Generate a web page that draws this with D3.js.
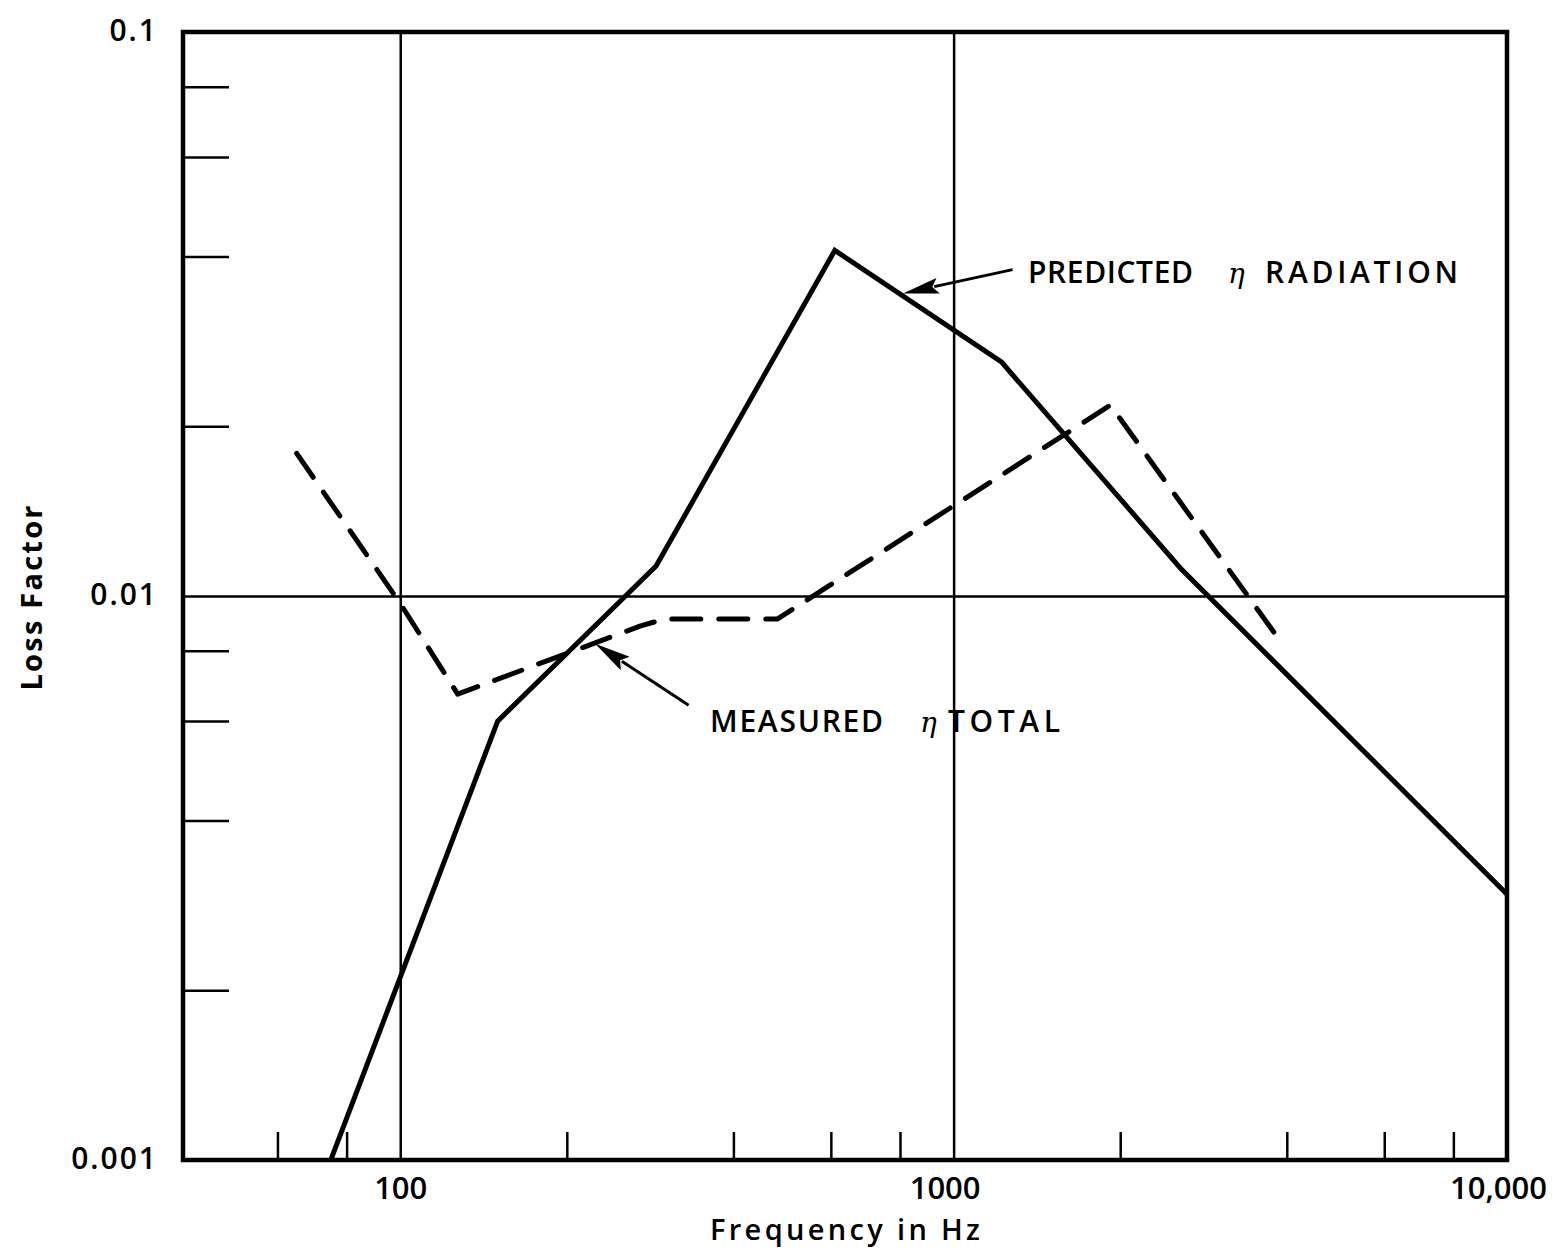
<!DOCTYPE html>
<html><head><meta charset="utf-8">
<script src="https://cdn.jsdelivr.net/npm/d3@7"></script>
<style>body{margin:0;background:#fff}svg{display:block}</style>
</head><body>
<svg id="c" width="1559" height="1259"></svg>
<script>
// ---- data ----
const predictedFreq = [63, 150, 290, 610, 1220, 2570, 10000];
const predictedEta  = [0.00064, 0.0060, 0.0113, 0.041, 0.026, 0.0112, 0.00296];
const measuredFreq  = [65, 100, 127, 272, 300, 480, 1920, 3900];
const measuredEta   = [0.0179, 0.0097, 0.0067, 0.00885, 0.0091, 0.0091, 0.0218, 0.0083];

const xLabelValues = [100, 1000, 10000];
const xLabels      = ["100", "1000", "10,000"];
const xMinorTicks  = [60, 80, 200, 400, 600, 800, 2000, 4000, 6000, 8000];
const xGridValues  = [100, 1000];
const yLabelValues = [0.001, 0.01, 0.1];
const yLabels      = ["0.001", "0.01", "0.1"];
const yMinorTicks  = [0.002, 0.004, 0.006, 0.008, 0.02, 0.04, 0.06, 0.08];
const yGridValues  = [0.01];

// annotation anchors (data coordinates)
const predictedArrow = {tail: [1278, 0.0379], tip: [810, 0.0344]};
const measuredArrow  = {tail: [332, 0.0064], tip: [225, 0.00823]};

// ---- layout ----
const L = 183, R = 1507, T = 32, B = 1160;
const FONT = "'Open Sans', Lato, 'DejaVu Sans', sans-serif";
const W = 600;
const svg = d3.select("#c");
const x = d3.scaleLog().domain([40.5, 10000]).range([L, R]);
const y = d3.scaleLog().domain([0.001, 0.1]).range([B, T]);

svg.append("defs").append("clipPath").attr("id", "plot")
  .append("rect").attr("x", L).attr("y", T).attr("width", R - L).attr("height", B - T);

function clean(g) { g.select(".domain").remove(); g.selectAll("line").attr("stroke", "#000"); }

// grid lines
svg.append("g").attr("transform", `translate(0,${B})`)
  .call(d3.axisBottom(x).tickValues(xGridValues).tickSize(-(B - T)).tickFormat(""))
  .call(clean).selectAll("line").attr("stroke-width", 2.5);
svg.append("g").attr("transform", `translate(${L},0)`)
  .call(d3.axisLeft(y).tickValues(yGridValues).tickSize(-(R - L)).tickFormat(""))
  .call(clean).selectAll("line").attr("stroke-width", 2.5);

// minor ticks (inward)
svg.append("g").attr("transform", `translate(0,${B})`)
  .call(d3.axisBottom(x).tickValues(xMinorTicks).tickSize(-28).tickFormat(""))
  .call(clean).selectAll("line").attr("stroke-width", 2.5);
svg.append("g").attr("transform", `translate(${L},0)`)
  .call(d3.axisLeft(y).tickValues(yMinorTicks).tickSize(-46).tickFormat(""))
  .call(clean).selectAll("line").attr("stroke-width", 2.5);

// frame
svg.append("rect").attr("x", L).attr("y", T).attr("width", R - L).attr("height", B - T)
  .attr("fill", "none").attr("stroke", "#000").attr("stroke-width", 4.5);

// tick labels
const xl = svg.append("g").attr("transform", `translate(0,${B})`)
  .call(d3.axisBottom(x).tickValues(xLabelValues).tickSize(0).tickPadding(0)
        .tickFormat((d, i) => xLabels[i]))
  .call(clean);
xl.selectAll("text").attr("font-family", FONT).attr("font-size", 31).attr("font-weight", W)
  .attr("fill", "#000").attr("dy", null).attr("y", 39).attr("dx", (d, i) => i === 0 ? 0 : -9);

const yl = svg.append("g").attr("transform", `translate(${L},0)`)
  .call(d3.axisLeft(y).tickValues(yLabelValues).tickSize(0).tickPadding(0)
        .tickFormat((d, i) => yLabels[i]))
  .call(clean);
yl.selectAll("text").attr("font-family", FONT).attr("font-size", 30).attr("font-weight", W)
  .attr("fill", "#000").attr("x", -25).attr("dy", 8).attr("letter-spacing", 2);

// axis titles
svg.append("text").attr("x", 845).attr("y", 1240).attr("text-anchor", "middle")
  .attr("font-family", FONT).attr("font-size", 29).attr("font-weight", W).attr("fill", "#000")
  .attr("textLength", 270).attr("lengthAdjust", "spacing")
  .text("Frequency in Hz");
svg.append("text").attr("transform", "translate(42,598) rotate(-90)").attr("text-anchor", "middle")
  .attr("font-family", FONT).attr("font-size", 29).attr("font-weight", "bold").attr("fill", "#000")
  .attr("textLength", 185).attr("lengthAdjust", "spacing")
  .text("Loss Factor");

// data lines
const line = d3.line().x(d => x(d[0])).y(d => y(d[1]));
const plot = svg.append("g").attr("clip-path", "url(#plot)");
plot.append("path").datum(predictedFreq.map((f, i) => [f, predictedEta[i]]))
  .attr("d", line).attr("fill", "none").attr("stroke", "#000").attr("stroke-width", 5)
  .attr("stroke-linejoin", "miter");
plot.append("path").datum(measuredFreq.map((f, i) => [f, measuredEta[i]]))
  .attr("d", line).attr("fill", "none").attr("stroke", "#000").attr("stroke-width", 5)
  .attr("stroke-dasharray", "29,18").attr("stroke-linecap", "round").attr("stroke-linejoin", "round");

// arrows
function arrow(a) {
  const x0 = x(a.tail[0]), y0 = y(a.tail[1]), x1 = x(a.tip[0]), y1 = y(a.tip[1]);
  const dx = x1 - x0, dy = y1 - y0, len = Math.hypot(dx, dy), ux = dx / len, uy = dy / len;
  const hl = 36, hw = 8;
  const bx = x1 - ux * hl, by = y1 - uy * hl;
  svg.append("line").attr("x1", x0).attr("y1", y0).attr("x2", bx + ux * 4).attr("y2", by + uy * 4)
    .attr("stroke", "#000").attr("stroke-width", 3);
  svg.append("path").attr("d", `M${x1},${y1}L${bx - uy * hw},${by + ux * hw}L${bx + ux * 6},${by + uy * 6}L${bx + uy * hw},${by - ux * hw}Z`)
    .attr("fill", "#000");
}
arrow(predictedArrow);
arrow(measuredArrow);

// annotation texts
function word(xp, yp, txt, len) {
  const t = svg.append("text").attr("x", xp).attr("y", yp).attr("font-family", FONT)
    .attr("font-size", 30).attr("font-weight", W).attr("fill", "#000").text(txt);
  if (len) t.attr("textLength", len).attr("lengthAdjust", "spacing");
}
function eta(xp, yp) {
  svg.append("text").attr("x", xp).attr("y", yp).attr("font-family", "'DejaVu Serif', serif")
    .attr("font-style", "italic").attr("font-size", 28).attr("fill", "#000").text("η");
}
word(1028, 283, "PREDICTED", 165); eta(1228, 283); word(1265, 283, "RADIATION", 193);
word(710, 732, "MEASURED", 173); eta(920, 732); word(948, 732, "TOTAL", 112);
</script>
</body></html>
